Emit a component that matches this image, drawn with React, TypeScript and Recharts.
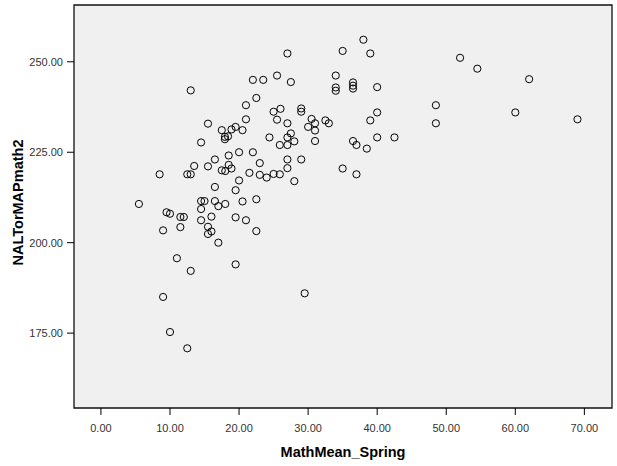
import React from 'react';
import { ScatterChart, Scatter, XAxis, YAxis, ReferenceArea } from 'recharts';

// MathMean_Spring (x) vs NALTorMAPmath2 (y)
const mathMeanSpring = [
  27.0, 13.0, 22.0, 23.5, 25.5, 27.5, 22.5, 21.0, 29.0, 29.0,
  25.0, 26.0, 25.5, 21.0, 27.0, 15.5, 17.5, 18.9, 19.5, 20.5,
  17.95, 17.95, 18.4, 24.4, 27.0, 27.5, 28.0, 25.9, 27.0, 14.5,
  18.5, 20.0, 22.0, 15.5, 16.5, 13.5, 18.5, 18.9, 17.5, 18.0,
  23.0, 29.0, 27.0, 27.0, 8.5, 12.5, 13.0, 21.5, 23.0, 24.0,
  25.0, 25.9, 28.0, 20.0, 16.5, 19.5, 20.5, 22.5, 14.5, 15.0,
  16.5, 17.0, 18.0, 5.5, 14.5, 9.5, 10.0, 11.5, 12.0, 16.0,
  19.5, 21.0, 14.5, 9.0, 11.5, 15.5, 15.5, 16.0, 22.5, 17.0,
  11.0, 13.0, 19.5, 9.0, 29.5, 10.0, 12.5,
  38.0, 35.0, 39.0, 52.0, 54.5, 62.0, 34.0, 34.0, 34.0, 36.5,
  36.5, 36.5, 40.0, 48.5, 48.5, 60.0, 69.0, 40.0, 39.0, 30.5,
  30.0, 31.0, 31.0, 32.5, 33.0, 31.0, 36.5, 37.0, 38.5, 40.0,
  42.5, 35.0, 37.0,
];

const naltMath2 = [
  252.3, 242.1, 245.0, 245.0, 246.2, 244.4, 240.0, 238.0, 237.1, 236.2,
  236.2, 237.0, 234.0, 234.1, 233.0, 232.9, 231.1, 231.3, 232.0, 231.1,
  229.25, 228.6, 229.4, 229.1, 229.1, 230.2, 228.0, 227.0, 227.0, 227.7,
  224.1, 225.0, 225.0, 221.1, 223.0, 221.2, 221.5, 220.5, 220.0, 219.8,
  222.0, 223.0, 223.0, 220.6, 218.9, 218.9, 218.9, 219.3, 218.75, 218.0,
  219.0, 218.9, 217.0, 217.2, 215.4, 214.5, 211.4, 212.0, 211.5, 211.5,
  211.5, 210.1, 210.7, 210.7, 209.3, 208.4, 208.0, 207.1, 207.1, 207.2,
  207.0, 206.2, 206.2, 203.4, 204.3, 204.4, 202.4, 203.1, 203.2, 200.0,
  195.7, 192.2, 194.0, 185.0, 186.0, 175.3, 170.8,
  256.1, 253.0, 252.3, 251.1, 248.1, 245.2, 246.2, 242.9, 242.0, 244.3,
  243.4, 242.6, 243.0, 238.0, 233.0, 236.0, 234.1, 236.0, 233.8, 234.2,
  232.0, 233.0, 231.0, 233.8, 233.0, 228.1, 228.1, 227.0, 226.0, 229.1,
  229.1, 220.5, 218.9,
];

const xTicks = [0, 10, 20, 30, 40, 50, 60, 70];
const yTicks = [175, 200, 225, 250];
const xDomain = [-3.9, 74];
const yDomain = [154.3, 265.7];

const data = mathMeanSpring.map((x, i) => ({ x, y: naltMath2[i] }));

const FONT = '"Liberation Sans", Arial, sans-serif';

const Ring = (props: any) => (
  <circle cx={props.cx} cy={props.cy} r={3.6} fill="none" stroke="#000" strokeWidth={1} />
);

const XTitle = (props: any) => {
  const vb = props.viewBox || { x: 74, y: 408, width: 538 };
  const cx = vb.x + vb.width / 2;
  return (
    <text x={cx} y={vb.y + 48.5} textAnchor="middle" fontSize={14.5} fontWeight="bold" fill="#000" fontFamily={FONT}>
      MathMean_Spring
    </text>
  );
};

const YTitle = (props: any) => {
  const vb = props.viewBox || { y: 5, height: 403 };
  const cx = 18;
  const cy = vb.y + vb.height / 2 - 4;
  return (
    <text
      x={cx}
      y={cy}
      transform={`rotate(-90 ${cx} ${cy})`}
      textAnchor="middle"
      dominantBaseline="central"
      fontSize={14.5}
      fontWeight="bold"
      fill="#000"
      fontFamily={FONT}
    >
      NALTorMAPmath2
    </text>
  );
};

export default function App() {
  const tickStyle = { fill: '#333', fontSize: 11, fontFamily: FONT };
  return (
    <div style={{ position: 'absolute', left: 0, top: 0, width: 617, height: 466, background: '#fff' }}>
      <ScatterChart width={617} height={466} margin={{ top: 5, right: 5, left: 0, bottom: 0 }} style={{ fontFamily: FONT }}>
        <XAxis
          type="number"
          dataKey="x"
          domain={xDomain}
          ticks={xTicks}
          allowDataOverflow
          height={58}
          tickFormatter={(v: number) => v.toFixed(2)}
          tick={tickStyle}
          tickSize={7}
          tickMargin={9}
          tickLine={{ stroke: '#000' }}
          axisLine={false}
          label={<XTitle />}
        />
        <YAxis
          type="number"
          dataKey="y"
          domain={yDomain}
          ticks={yTicks}
          allowDataOverflow
          width={74}
          tickFormatter={(v: number) => v.toFixed(2)}
          tick={tickStyle}
          tickSize={7}
          tickMargin={4}
          tickLine={{ stroke: '#000' }}
          axisLine={false}
          label={<YTitle />}
        />
        <ReferenceArea
          x1={xDomain[0]}
          x2={xDomain[1]}
          y1={yDomain[0]}
          y2={yDomain[1]}
          fill="#f0f0f0"
          fillOpacity={1}
          stroke="#111"
          strokeWidth={1.3}
        />
        <Scatter data={data} shape={Ring} isAnimationActive={false} />
      </ScatterChart>
    </div>
  );
}
